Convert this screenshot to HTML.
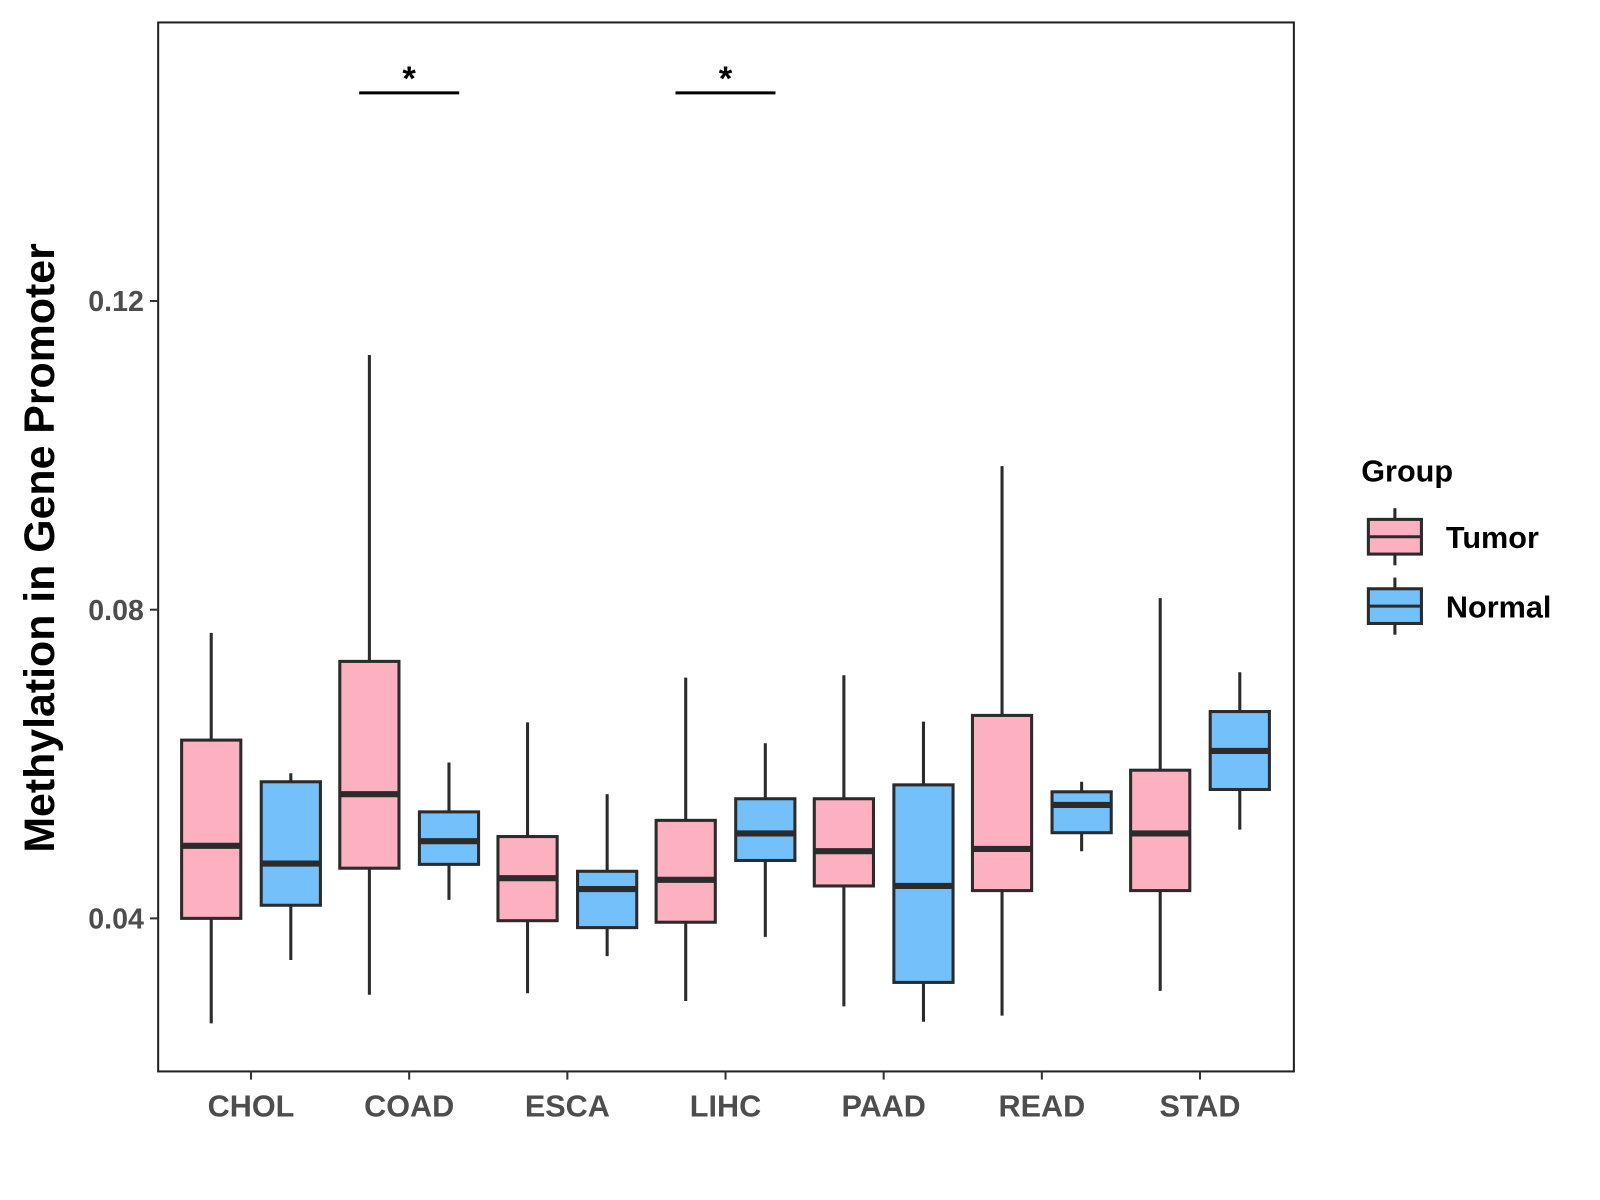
<!DOCTYPE html>
<html><head><meta charset="utf-8"><style>
body{margin:0;background:#fff;}
svg{display:block;font-family:"Liberation Sans",Arial,sans-serif;}
</style></head><body>
<svg id="chart" width="1600" height="1200" viewBox="0 0 1568 1176">
<rect x="0" y="0" width="1568" height="1176" fill="#fff"/>
<rect x="155" y="22" width="1113" height="1028" fill="none" stroke="#222" stroke-width="2"/>
<g id="marks"></g>
<text x="0" y="0" transform="translate(53,537) rotate(-90)" text-anchor="middle" font-size="42" font-weight="bold" fill="#000">Methylation in Gene Promoter</text>
<g>
<text x="1334" y="472" font-size="30" font-weight="bold" fill="#000">Group</text>
<g>
<line x1="1367" y1="498" x2="1367" y2="554" stroke="#2b2b2b" stroke-width="3"/>
<rect x="1341" y="509" width="52" height="34" fill="#FDB0C0" stroke="#2b2b2b" stroke-width="3"/>
<line x1="1341" y1="526" x2="1393" y2="526" stroke="#2b2b2b" stroke-width="3"/>
<text x="1417" y="537" font-size="30" font-weight="bold" fill="#000">Tumor</text>
</g>
<g>
<line x1="1367" y1="566" x2="1367" y2="622" stroke="#2b2b2b" stroke-width="3"/>
<rect x="1341" y="577" width="52" height="34" fill="#74C0FA" stroke="#2b2b2b" stroke-width="3"/>
<line x1="1341" y1="594" x2="1393" y2="594" stroke="#2b2b2b" stroke-width="3"/>
<text x="1417" y="605" font-size="30" font-weight="bold" fill="#000">Normal</text>
</g>
</g>
</svg>
<script>
const categories = ["CHOL","COAD","ESCA","LIHC","PAAD","READ","STAD"];
// [whiskerHigh, Q3, median, Q1, whiskerLow]
const tumorStats = [
 [0.0770,0.0631,0.0494,0.0400,0.0264],
 [0.1130,0.0733,0.0561,0.0465,0.0301],
 [0.0654,0.0506,0.0452,0.0397,0.0303],
 [0.0712,0.0527,0.0450,0.0395,0.0293],
 [0.0715,0.0555,0.0487,0.0442,0.0286],
 [0.0986,0.0663,0.0490,0.0436,0.0274],
 [0.0815,0.0592,0.0510,0.0436,0.0306]
];
const normalStats = [
 [0.0588,0.0577,0.0471,0.0417,0.0346],
 [0.0602,0.0538,0.0500,0.0470,0.0424],
 [0.0561,0.0461,0.0438,0.0388,0.0351],
 [0.0627,0.0555,0.0510,0.0475,0.0376],
 [0.0655,0.0573,0.0442,0.0317,0.0266],
 [0.0577,0.0564,0.0547,0.0511,0.0487],
 [0.0719,0.0668,0.0617,0.0567,0.0515]
];
const yTicks = [0.04,0.08,0.12];
const yTickLabels = ["0.04","0.08","0.12"];
const significant = ["COAD","LIHC"];

const NS="http://www.w3.org/2000/svg";
const g=document.getElementById('marks');
function y(v){return 900-(v-0.04)*7562.5;}
function x(i){return 246+i*155;}
function mk(tag,attrs,parent){const e=document.createElementNS(NS,tag);for(const k in attrs)e.setAttribute(k,attrs[k]);(parent||g).appendChild(e);return e;}

yTicks.forEach((t,i)=>{
  const tk=mk('line',{x1:147,x2:155,y1:y(t),y2:y(t),stroke:'#333','stroke-width':2});
  
  
  const tl=mk('text',{x:141,y:y(t)+10,'text-anchor':'end','font-size':28,'font-weight':'bold',fill:'#4d4d4d'});
  tl.textContent=yTickLabels[i];
  
  
});
categories.forEach((c,i)=>{
  const tk=mk('line',{x1:x(i),x2:x(i),y1:1050,y2:1058,stroke:'#333','stroke-width':2});
  
  
  const tl=mk('text',{x:x(i),y:1094,'text-anchor':'middle','font-size':30,'font-weight':'bold',fill:'#4d4d4d'});
  tl.textContent=c;
  
  
});
function box(cx,s,fill,name){
  const grp=mk('g',{});
  
  
  mk('line',{x1:cx,x2:cx,y1:y(s[0]),y2:y(s[4]),stroke:'#2b2b2b','stroke-width':3},grp);
  mk('rect',{x:cx-29,y:y(s[1]),width:58,height:y(s[3])-y(s[1]),fill:fill,stroke:'#2b2b2b','stroke-width':3},grp);
  mk('line',{x1:cx-29,x2:cx+29,y1:y(s[2]),y2:y(s[2]),stroke:'#2b2b2b','stroke-width':6},grp);
}
categories.forEach((c,i)=>{
  box(x(i)-39,tumorStats[i],'#FDB0C0','box-tumor-'+c.toLowerCase());
  box(x(i)+39,normalStats[i],'#74C0FA','box-normal-'+c.toLowerCase());
});
significant.forEach(c=>{
  const i=categories.indexOf(c);
  const l=mk('line',{x1:x(i)-49,x2:x(i)+49,y1:91,y2:91,stroke:'#000','stroke-width':3});
  
  
  const t=mk('text',{x:x(i),y:88,'text-anchor':'middle','font-size':34,'font-weight':'bold',fill:'#000'});
  t.textContent='*';
  
  
});
</script>
</body></html>
